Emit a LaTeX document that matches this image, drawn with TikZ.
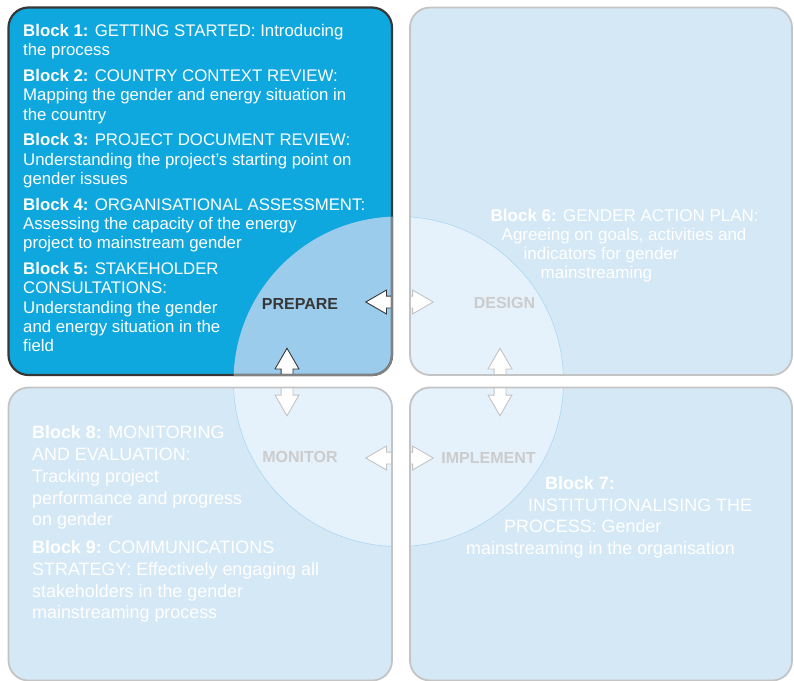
\documentclass[tikz,border=0pt]{standalone}
\usepackage{fontspec}
\setmainfont{Liberation Sans}
\usepackage{xcolor}
\usetikzlibrary{calc,shapes.arrows}
\definecolor{prepblue}{RGB}{14,167,222}
\definecolor{paleblue}{RGB}{213,232,246}
\definecolor{ringdark}{RGB}{156,204,236}
\definecolor{ringblue}{RGB}{242,248,255}
\definecolor{ringline}{RGB}{165,212,240}
\definecolor{darkline}{RGB}{55,55,55}
\definecolor{midline}{RGB}{130,130,130}
\definecolor{greyline}{RGB}{196,196,196}
\definecolor{fadetext}{RGB}{204,204,204}

\tikzset{
  quad/.style={rectangle, rounded corners=20pt, outer sep=0pt, inner sep=0pt},
  activequad/.style={quad, fill=prepblue},
  fadedquad/.style={quad, fill=paleblue},
  activeedge/.style={draw=darkline, line width=2.2pt, rounded corners=20pt},
  fadededge/.style={draw=greyline, line width=1.8pt, rounded corners=20pt},
  blocktext/.style={anchor=north west, inner sep=0pt, align=left, text=white},
  stage/.style={inner sep=0pt, font=\fontsize{16}{16}\selectfont\bfseries},
  dblarrow/.style={double arrow, fill=white, draw=greyline, line width=0.9pt, inner xsep=0pt, inner ysep=5.5pt,
    minimum height=67.5pt, double arrow head extend=6pt, double arrow tip angle=60}
}

\begin{document}
\begin{tikzpicture}[x=1pt,y=-1pt]
\useasboundingbox (0,0) rectangle (794,680);
\coordinate (O) at (398.5,381.5);

% the four quarters
\node[activequad, minimum width=383.5pt, minimum height=367.5pt] (prepbox) at (200.25,191.25) {};
\node[fadedquad, minimum width=382pt, minimum height=367.5pt] (desbox) at (601,191.25) {};
\node[fadedquad, minimum width=383.5pt, minimum height=293pt] (monbox) at (200.25,534) {};
\node[fadedquad, minimum width=382pt, minimum height=293pt] (impbox) at (601,534) {};

% circle in the middle
\begin{scope}
  \clip[rounded corners=20pt] (prepbox.north west) rectangle (prepbox.south east);
  \fill[ringdark] (O) circle[radius=165pt];
\end{scope}
\begin{scope}
  \clip[rounded corners=20pt] (desbox.north west) rectangle (desbox.south east)
    (monbox.north west) rectangle (monbox.south east)
    (impbox.north west) rectangle (impbox.south east);
  \fill[ringblue, opacity=0.58] (O) circle[radius=165pt];
  \draw[ringline, line width=0.5pt] (O) circle[radius=165pt];
  % arrows between the stages
  \node[dblarrow] (pd) at (399.5,302) {};
  \node[dblarrow, rotate=90] (pm) at (287,382) {};
  \node[dblarrow, rotate=90] (di) at (500,382) {};
  \node[dblarrow] (mi) at (399.5,458) {};
\end{scope}
\begin{scope}
  \clip[rounded corners=20pt] (prepbox.north west) rectangle (prepbox.south east);
  \node[dblarrow, draw=darkline] (pdtop) at (pd) {};
  \node[dblarrow, draw=darkline, rotate=90] (pmtop) at (pm) {};
\end{scope}

% borders
\draw[activeedge] (prepbox.north west) rectangle (prepbox.south east);
\begin{scope}
  \clip (O) circle[radius=165pt];
  \draw[activeedge, draw=midline] (prepbox.north west) rectangle (prepbox.south east);
\end{scope}
\draw[fadededge] (desbox.north west) rectangle (desbox.south east);
\draw[fadededge] (monbox.north west) rectangle (monbox.south east);
\draw[fadededge] (impbox.north west) rectangle (impbox.south east);

\node[blocktext, font=\fontsize{16.8}{19.3}\selectfont] (prepnotes) at (23,24) {%
  \textbf{Block 1:} GETTING STARTED: Introducing\\
  the process\\[6.5pt]
  \textbf{Block 2:} COUNTRY CONTEXT REVIEW:\\
  Mapping the gender and energy situation in\\
  the country\\[6.5pt]
  \textbf{Block 3:} PROJECT DOCUMENT REVIEW:\\
  Understanding the project’s starting point on\\
  gender issues\\[6.5pt]
  \textbf{Block 4:} ORGANISATIONAL ASSESSMENT:\\
  Assessing the capacity of the energy\\
  project to mainstream gender\\[6.5pt]
  \textbf{Block 5:} STAKEHOLDER\\
  CONSULTATIONS:\\
  Understanding the gender\\
  and energy situation in the\\
  field};
\node[blocktext, font=\fontsize{17}{19.1}\selectfont] (desnotes) at (490.5,208.8) {%
  \textbf{Block 6:} GENDER ACTION PLAN:\\
  \hspace*{11pt}Agreeing on goals, activities and\\
  \hspace*{33pt}indicators for gender\\
  \hspace*{50pt}mainstreaming};
\node[blocktext, font=\fontsize{17.9}{21.6}\selectfont] (impnotes) at (466,476.5) {%
  \hspace*{79pt}\textbf{Block 7:}\\
  \hspace*{62pt}INSTITUTIONALISING THE\\
  \hspace*{38pt}PROCESS: Gender\\
  mainstreaming in the organisation};
\node[blocktext, font=\fontsize{17.9}{21.8}\selectfont] (monnotes) at (32,425.5) {%
  \textbf{Block 8:} MONITORING\\
  AND EVALUATION:\\
  Tracking project\\
  performance and progress\\
  on gender\\[5.8pt]
  \textbf{Block 9:} COMMUNICATIONS\\
  STRATEGY: Effectively engaging all\\
  stakeholders in the gender\\
  mainstreaming process};

% stage names
\node[stage, text=darkline] (prep) at (300,303.5) {PREPARE};
\node[stage, text=fadetext] (des) at (504.5,303) {DESIGN};
\node[stage, text=fadetext] (mon) at (300,456.7) {MONITOR};
\node[stage, text=fadetext] (imp) at (488.5,458) {IMPLEMENT};
\end{tikzpicture}
\end{document}
